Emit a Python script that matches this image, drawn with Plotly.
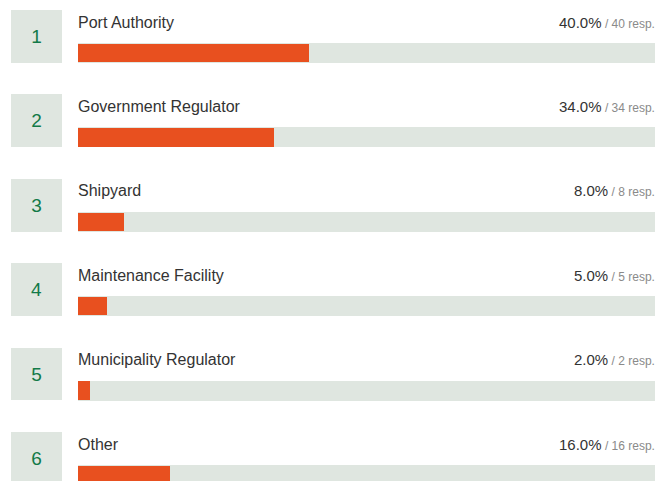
import plotly.graph_objects as go

categories = ["Port Authority", "Government Regulator", "Shipyard",
              "Maintenance Facility", "Municipality Regulator", "Other"]
percents = [40.0, 34.0, 8.0, 5.0, 2.0, 16.0]
responses = [40, 34, 8, 5, 2, 16]
ranks = [1, 2, 3, 4, 5, 6]

PAGE_OFF = 8        # default body margin of the html page
W, H = 668 - PAGE_OFF, 481 - PAGE_OFF
ROW = 84.4          # pixel spacing between rows
TRACK_C = 53 - PAGE_OFF   # pixel centre of first track
BOX_TOP = 10 - PAGE_OFF
TRACK_COLOR = "#dfe6e0"
BAR_COLOR = "#e8501f"
GREEN = "#127a48"
FONT = "Liberation Sans, Arial, sans-serif"

y_top = ranks[0] - TRACK_C / ROW
y_bot = ranks[0] + (H - TRACK_C) / ROW

fig = go.Figure()

# grey tracks (100%)
fig.add_trace(go.Bar(
    y=ranks, x=[100] * len(ranks), orientation="h",
    width=20 / ROW, marker=dict(color=TRACK_COLOR, line=dict(width=0)),
    hoverinfo="skip", xaxis="x", yaxis="y"))

# orange value bars
fig.add_trace(go.Bar(
    y=ranks, x=percents, orientation="h",
    width=18.5 / ROW, marker=dict(color=BAR_COLOR, line=dict(width=0), cornerradius=4),
    hoverinfo="skip", xaxis="x", yaxis="y"))

# number boxes
fig.add_trace(go.Bar(
    y=ranks, x=[1] * len(ranks), orientation="h",
    offset=-(TRACK_C - BOX_TOP) / ROW, width=52.7 / ROW,
    marker=dict(color=TRACK_COLOR, line=dict(width=0)),
    text=[str(r) for r in ranks], textposition="inside",
    insidetextanchor="middle", textangle=0,
    textfont=dict(family=FONT, size=19, color=GREEN),
    hoverinfo="skip", xaxis="x2", yaxis="y"))

annotations = []
for r, cat, p, n in zip(ranks, categories, percents, responses):
    annotations.append(dict(
        x=0, y=r, xref="x", yref="y", xanchor="left", yanchor="middle",
        yshift=31, xshift=-2, showarrow=False, text=cat,
        font=dict(family=FONT, size=16, color="#333333")))
    annotations.append(dict(
        x=100, y=r, xref="x", yref="y", xanchor="right", yanchor="middle",
        yshift=31, xshift=2, showarrow=False,
        text=f"{p:.1f}%<span style='font-size:12px;color:#8a8a8a'> / {n} resp.</span>",
        font=dict(family=FONT, size=15, color="#333333")))

fig.update_layout(
    width=W, height=H, margin=dict(l=0, r=0, t=0, b=0),
    paper_bgcolor="white", plot_bgcolor="white",
    barmode="overlay", showlegend=False, bargap=0,
    xaxis=dict(domain=[(78 - PAGE_OFF) / W, (655 - PAGE_OFF) / W], range=[0, 100],
               visible=False, fixedrange=True),
    xaxis2=dict(domain=[(11 - PAGE_OFF) / W, (62 - PAGE_OFF) / W], range=[0, 1],
                visible=False, fixedrange=True, anchor="y"),
    yaxis=dict(range=[y_bot, y_top], visible=False, fixedrange=True),
    annotations=annotations,
)

fig.write_html("out.html")
